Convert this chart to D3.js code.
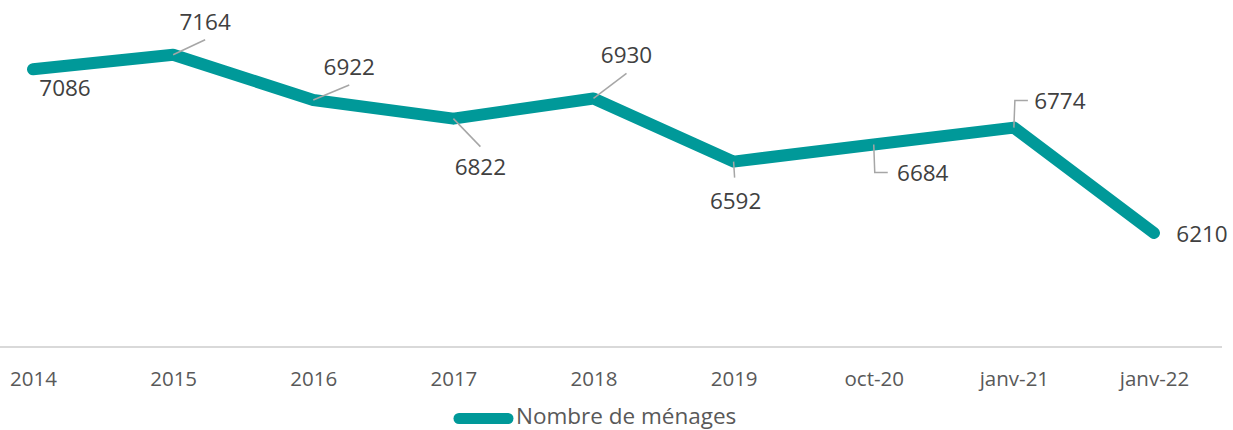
<!DOCTYPE html>
<html><head><meta charset="utf-8">
<script src="https://cdn.jsdelivr.net/npm/d3@7"></script>
<style>
html,body{margin:0;padding:0;background:#fff;}
svg{display:block;font-family:"Open Sans",sans-serif;}
</style></head>
<body><svg id="c" width="1233" height="430"></svg>
<script>
const categories = ["2014","2015","2016","2017","2018","2019","oct-20","janv-21","janv-22"];
const values = [7086,7164,6922,6822,6930,6592,6684,6774,6210];
const seriesName = "Nombre de ménages";
// label placement: offset of label centre relative to point, leader style
const labelPos = [
  {dx:32, dy:19, leader:"none"},
  {dx:32, dy:-33, leader:"diag"},
  {dx:36, dy:-33, leader:"diag"},
  {dx:27, dy:48, leader:"diag"},
  {dx:33, dy:-43, leader:"diag"},
  {dx:2, dy:39, leader:"vert"},
  {dx:49, dy:29, leader:"elbowDown"},
  {dx:46, dy:-27, leader:"elbowUp"},
  {dx:48, dy:1, leader:"none"}
];

const svg = d3.select("#c");
const x = d3.scalePoint().domain(categories).range([33,1154]);
const y = d3.scaleLinear().domain([5600,7200]).range([347,48]);
const teal = "#009999";

// axis
const axis = d3.axisBottom(x).tickSize(0).tickPadding(0);
const gx = svg.append("g").attr("transform","translate(0,347)").call(axis);
gx.select(".domain").remove();
svg.append("line").attr("x1",0).attr("x2",1222).attr("y1",347).attr("y2",347)
  .attr("stroke","#d9d9d9").attr("stroke-width",2);
gx.selectAll("text").attr("y",39).attr("dy",0).attr("fill","#595959")
  .attr("font-size",20.5).attr("font-family","Open Sans, sans-serif");

// line
const line = d3.line().x((d,i)=>x(categories[i])).y(d=>y(d));
svg.append("path").datum(values).attr("d",line).attr("fill","none")
  .attr("stroke",teal).attr("stroke-width",12).attr("stroke-linecap","round").attr("stroke-linejoin","round");

// labels
values.forEach((v,i)=>{
  const px = x(categories[i]), py = y(v);
  const p = labelPos[i];
  const lx = px+p.dx, ly = py+p.dy;
  let path = null;
  if (p.leader==="diag") {
    const ty = p.dy<0 ? ly+18 : ly-20;
    path = `M${px},${py}L${lx},${ty}`;
  } else if (p.leader==="vert") {
    path = `M${px},${py}L${px+1},${ly-23}`;
  } else if (p.leader==="elbowDown") {
    path = `M${px},${py}L${px+1},${ly-1}L${px+14},${ly-1}`;
  } else if (p.leader==="elbowUp") {
    path = `M${px},${py}L${px+1},${ly}L${px+14},${ly}`;
  }
  if (path) svg.append("path").attr("d",path).attr("fill","none").attr("stroke","#a6a6a6").attr("stroke-width",1.5);
  svg.append("text").attr("x",lx).attr("y",ly+8).attr("text-anchor","middle")
    .attr("font-size",22.5).attr("fill","#404040").text(d3.format("d")(v));
});

// legend
svg.append("line").attr("x1",459).attr("x2",508).attr("y1",418.5).attr("y2",418.5)
  .attr("stroke",teal).attr("stroke-width",11).attr("stroke-linecap","round");
svg.append("text").attr("x",516).attr("y",424).attr("font-size",22.5).attr("fill","#595959").text(seriesName);
</script></body></html>
